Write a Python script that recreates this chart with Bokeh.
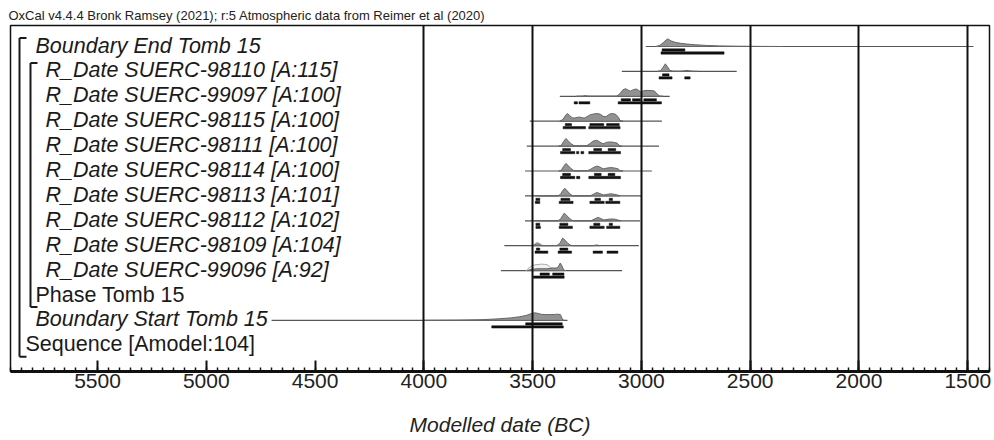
from bokeh.plotting import figure
from bokeh.models import Range1d, SingleIntervalTicker, FixedTicker, ColumnDataSource
from bokeh.core.properties import value
from bokeh.embed import file_html
from bokeh.resources import INLINE

# ---------------- data ----------------
HEADER = "OxCal v4.4.4 Bronk Ramsey (2021); r:5 Atmospheric data from Reimer et al (2020)"
X_TITLE = "Modelled date (BC)"

labels = [
    "Boundary End Tomb 15",
    "R_Date SUERC-98110 [A:115]",
    "R_Date SUERC-99097 [A:100]",
    "R_Date SUERC-98115 [A:100]",
    "R_Date SUERC-98111 [A:100]",
    "R_Date SUERC-98114 [A:100]",
    "R_Date SUERC-98113 [A:101]",
    "R_Date SUERC-98112 [A:102]",
    "R_Date SUERC-98109 [A:104]",
    "R_Date SUERC-99096 [A:92]",
    "Phase Tomb 15",
    "Boundary Start Tomb 15",
    "Sequence [Amodel:104]",
]
label_italic = [True, True, True, True, True, True, True, True, True, True, False, True, False]

# range over which each distribution was computed (years BC)
line_start = [2980, 3090, 3375, 3513, 3527, 3535, 3535, 3535, 3630, 3646, None, 4700, None]
line_end = [1474, 2562, 2870, 2906, 2919, 2952, 2997, 3006, 3012, 3089, None, 3340, None]

# posterior distributions: years BC and relative probability
post_yr_0 = [2935, 2915, 2900, 2885, 2878, 2865, 2845, 2820, 2790, 2750, 2700, 2640, 2560, 2450, 2350]
post_p_0 = [0, 0.15, 0.5, 0.9, 1.0, 0.75, 0.55, 0.42, 0.32, 0.22, 0.14, 0.08, 0.04, 0.015, 0]

post_yr_1 = [2925, 2912, 2900, 2890, 2880, 2870, 2855, 2820, 2800, 2790, 2780, 2765, 2740]
post_p_1 = [0, 0.1, 0.55, 1.0, 0.6, 0.15, 0.03, 0.02, 0.08, 0.13, 0.08, 0.02, 0]

post_yr_2 = [3300, 3270, 3258, 3245, 3200, 3115, 3100, 3085, 3073, 3060, 3050, 3035, 3023, 3012, 3003,
             2990, 2978, 2955, 2940, 2928, 2915, 2900]
post_p_2 = [0, 0.02, 0.09, 0.02, 0.01, 0.02, 0.3, 0.85, 1.0, 0.8, 0.68, 0.9, 0.96, 0.75, 0.56,
            0.72, 0.78, 0.76, 0.7, 0.3, 0.02, 0]

post_yr_3 = [3375, 3360, 3348, 3340, 3330, 3318, 3308, 3295, 3283, 3272, 3262, 3250, 3235, 3215, 3200,
             3188, 3172, 3160, 3145, 3132, 3118, 3105, 3098, 3085]
post_p_3 = [0, 0.25, 0.8, 1.0, 0.75, 0.45, 0.42, 0.5, 0.55, 0.45, 0.42, 0.6, 0.85, 0.98, 1.0,
            0.9, 0.58, 0.65, 0.95, 1.0, 0.9, 0.5, 0.05, 0]

post_yr_4 = [3380, 3368, 3358, 3347, 3338, 3325, 3312, 3300, 3270, 3250, 3238, 3222, 3206, 3192, 3176,
             3160, 3143, 3125, 3112, 3100, 3090]
post_p_4 = [0, 0.1, 0.6, 1.0, 0.75, 0.35, 0.1, 0.05, 0.04, 0.06, 0.3, 0.65, 0.77, 0.55, 0.3,
            0.5, 0.55, 0.48, 0.4, 0.05, 0]

post_yr_5 = [3380, 3368, 3358, 3347, 3338, 3325, 3312, 3300, 3250, 3235, 3218, 3203, 3190, 3175, 3160,
             3140, 3125, 3108, 3098, 3085]
post_p_5 = [0, 0.1, 0.6, 1.0, 0.75, 0.35, 0.08, 0.03, 0.03, 0.2, 0.5, 0.65, 0.5, 0.28, 0.38,
            0.45, 0.4, 0.3, 0.03, 0]

post_yr_6 = [3490, 3478, 3468, 3385, 3372, 3362, 3352, 3342, 3330, 3318, 3305, 3235, 3222, 3205, 3190,
             3175, 3160, 3142, 3125, 3108, 3098]
post_p_6 = [0, 0.06, 0, 0, 0.2, 0.7, 1.0, 0.7, 0.3, 0.05, 0, 0, 0.2, 0.45, 0.3,
            0.12, 0.2, 0.28, 0.22, 0.1, 0]

post_yr_7 = [3492, 3482, 3472, 3385, 3372, 3362, 3355, 3345, 3332, 3318, 3305, 3232, 3218, 3200, 3185,
             3172, 3158, 3138, 3120, 3105, 3095]
post_p_7 = [0, 0.05, 0, 0, 0.2, 0.7, 1.0, 0.75, 0.35, 0.05, 0, 0, 0.2, 0.45, 0.28,
            0.1, 0.18, 0.25, 0.2, 0.08, 0]

post_yr_8 = [3500, 3490, 3478, 3466, 3455, 3390, 3375, 3362, 3350, 3338, 3325, 3312, 3225, 3205, 3190]
post_p_8 = [0, 0.1, 0.3, 0.1, 0, 0, 0.3, 1.0, 0.7, 0.3, 0.05, 0, 0, 0.1, 0]

post_yr_9 = [3525, 3512, 3495, 3475, 3455, 3435, 3420, 3405, 3392, 3382, 3373, 3365, 3358, 3352]
post_p_9 = [0, 0.12, 0.2, 0.25, 0.25, 0.25, 0.28, 0.32, 0.3, 0.5, 1.0, 0.6, 0.1, 0]

post_yr_11 = [4000, 3850, 3750, 3700, 3650, 3600, 3560, 3530, 3505, 3490, 3475, 3460, 3440, 3420, 3400,
              3385, 3372, 3362, 3355]
post_p_11 = [0, 0.03, 0.08, 0.14, 0.22, 0.33, 0.48, 0.65, 0.9, 1.0, 0.92, 0.8, 0.76, 0.76, 0.78,
             0.82, 0.75, 0.1, 0]

# unmodelled likelihoods (visible only where larger than the posterior)
like_yr_8 = [3502, 3490, 3478, 3466, 3455, 3440]
like_p_8 = [0, 0.25, 0.45, 0.25, 0.05, 0]

like_yr_9 = [3530, 3520, 3505, 3490, 3475, 3460, 3445, 3432, 3418, 3400, 3385, 3372, 3360, 3350]
like_p_9 = [0, 0.3, 0.6, 0.75, 0.8, 0.85, 0.82, 0.75, 0.4, 0.32, 0.35, 0.5, 0.2, 0]

posteriors = {0: (post_yr_0, post_p_0), 1: (post_yr_1, post_p_1), 2: (post_yr_2, post_p_2),
              3: (post_yr_3, post_p_3), 4: (post_yr_4, post_p_4), 5: (post_yr_5, post_p_5),
              6: (post_yr_6, post_p_6), 7: (post_yr_7, post_p_7), 8: (post_yr_8, post_p_8),
              9: (post_yr_9, post_p_9), 11: (post_yr_11, post_p_11)}
likelihoods = {8: (like_yr_8, like_p_8), 9: (like_yr_9, like_p_9)}

# highest posterior density ranges (years BC)
range68 = {
    0: [(2905, 2800)],
    1: [(2903, 2873)],
    2: [(3093, 3050), (3041, 3004), (2989, 2931)],
    3: [(3350, 3321), (3237, 3173), (3160, 3102)],
    4: [(3362, 3326), (3219, 3183), (3153, 3118)],
    5: [(3362, 3326), (3216, 3185), (3153, 3122)],
    6: [(3485, 3467), (3370, 3329), (3214, 3188), (3148, 3133)],
    7: [(3485, 3467), (3375, 3338), (3219, 3191), (3148, 3133)],
    8: [(3483, 3467), (3375, 3338)],
    9: [(3466, 3423), (3408, 3356)],
    11: [(3532, 3364)],
}
range95 = {
    0: [(2910, 2620)],
    1: [(2919, 2859), (2801, 2776)],
    2: [(3309, 3294), (3287, 3237), (3107, 2908)],
    3: [(3360, 3257), (3242, 3098)],
    4: [(3372, 3306), (3298, 3288), (3278, 3265), (3242, 3096)],
    5: [(3372, 3306), (3298, 3283), (3242, 3096)],
    6: [(3488, 3467), (3378, 3314), (3237, 3171), (3164, 3099)],
    7: [(3485, 3464), (3378, 3317), (3237, 3171), (3160, 3099)],
    8: [(3489, 3430), (3383, 3321), (3222, 3179), (3158, 3108)],
    9: [(3497, 3355)],
    11: [(3688, 3359)],
}

# groups drawn as brackets: (first row, last row)
groups = [(0, 12), (1, 10)]

x_ticks_grid = [4000, 3500, 3000, 2500, 2000, 1500]
X0, X1 = 5900, 1400

# ---------------- layout / style ----------------
W, H = 994, 440
MB_L, MB_R, MB_T, MB_B = 10, 5, 25, 69
FRAME_W = W - MB_L - MB_R
FRAME_H = H - MB_T - MB_B
SCALE = FRAME_W / (X0 - X1)            # px per year
N = len(labels)
ROW_PX = 24.9
TOP_PAD = 21.0 / ROW_PX
BOT_PAD = FRAME_H / ROW_PX - (N - 1) - TOP_PAD
PEAK = 7.6 / ROW_PX
OFF68 = 3.5 / ROW_PX
OFF95 = 6.5 / ROW_PX
BAR_H = 2.3 / ROW_PX


def yrow(i):
    return (N - 1) - i


def px2yr(px):
    return X0 - px / SCALE


p = figure(width=W, height=H, output_backend="svg", toolbar_location=None,
           x_range=Range1d(X0, X1), y_range=Range1d(-BOT_PAD, (N - 1) + TOP_PAD),
           y_axis_location=None, min_border_left=MB_L, min_border_right=MB_R,
           min_border_top=MB_T, min_border_bottom=MB_B, background_fill_color="white",
           border_fill_color="white")

p.outline_line_color = "#111111"
p.outline_line_width = 1.5

p.title.text = HEADER
p.title.text_font = "Liberation Sans"
p.title.text_font_size = "13px"
p.title.text_font_style = "normal"
p.title.text_color = "#222222"
p.title.align = "left"
p.title.standoff = 6
p.title.offset = -2

ax = p.xaxis[0]
ax.ticker = SingleIntervalTicker(interval=500, num_minor_ticks=10)
ax.axis_label = X_TITLE
ax.axis_label_text_font = "Liberation Sans"
ax.axis_label_text_font_style = "italic"
ax.axis_label_text_font_size = "21px"
ax.axis_label_text_color = "#222222"
ax.axis_label_standoff = 22
ax.major_label_text_font = "Liberation Sans"
ax.major_label_text_font_size = "21px"
ax.major_label_text_color = "#222222"
ax.major_label_standoff = 2
ax.axis_line_width = 3
ax.axis_line_color = "#111111"
ax.major_tick_in = 11
ax.major_tick_out = 0
ax.major_tick_line_width = 2
ax.major_tick_line_color = "#111111"
ax.minor_tick_in = 4
ax.minor_tick_out = 0
ax.minor_tick_line_width = 1.5
ax.minor_tick_line_color = "#111111"

p.xgrid.ticker = FixedTicker(ticks=x_ticks_grid)
p.xgrid.grid_line_color = "#111111"
p.xgrid.grid_line_width = 2
p.xgrid.level = "overlay"
p.ygrid.visible = False

# baselines
bl = dict(x0=[], x1=[], y=[])
for i in range(N):
    if line_start[i] is not None:
        bl["x0"].append(line_start[i]); bl["x1"].append(line_end[i]); bl["y"].append(yrow(i))
p.segment(x0="x0", y0="y", x1="x1", y1="y", source=ColumnDataSource(bl),
          line_color="#555555", line_width=1.2)

# likelihood outlines
for i, (yrs, pr) in likelihoods.items():
    p.patch(yrs, [yrow(i) + v * PEAK for v in pr], fill_color="#f2f2f2", fill_alpha=1,
            line_color="#a8a8a8", line_width=1)

# posteriors
for i, (yrs, pr) in posteriors.items():
    p.patch(yrs, [yrow(i) + v * PEAK for v in pr], fill_color="#929292", fill_alpha=1,
            line_color="#666666", line_width=1)

# ranges
def bars(rdict, off):
    d = dict(left=[], right=[], y=[])
    for i, rs in rdict.items():
        for a, b in rs:
            d["left"].append(a); d["right"].append(b); d["y"].append(yrow(i) - off)
    p.hbar(y="y", left="left", right="right", height=BAR_H, source=ColumnDataSource(d),
           fill_color="#111111", line_color="#111111", line_width=0.5)

bars(range68, OFF68)
bars(range95, OFF95)

# labels
indent = {0: 25, 10: 25, 11: 25, 12: 15}
for italic in (True, False):
    rows = [i for i in range(N) if label_italic[i] == italic]
    src = ColumnDataSource(dict(x=[X0] * len(rows), y=[yrow(i) for i in rows],
                                t=[labels[i] for i in rows],
                                xo=[indent.get(i, 35) for i in rows]))
    p.text(x="x", y="y", text="t", x_offset="xo", y_offset=-1, source=src,
           text_font=value("Liberation Sans"), text_font_size="21.5px",
           text_font_style="italic" if italic else "normal",
           text_baseline="middle", text_align="left", text_color="#1a1a1a")

# brackets
bracket_px = {(0, 12): (9, 16), (1, 10): (20, 27)}
bx0, by0, bx1, by1 = [], [], [], []
for (a, b) in groups:
    xv, xh = bracket_px[(a, b)]
    top = yrow(a) + 8.5 / ROW_PX
    bot = yrow(b) - 11.5 / ROW_PX
    xa, xb = px2yr(xv), px2yr(xh)
    bx0 += [xa, xa, xa]; by0 += [top, top, bot]
    bx1 += [xa, xb, xb]; by1 += [bot, top, bot]
p.segment(x0=bx0, y0=by0, x1=bx1, y1=by1, line_color="#1a1a1a", line_width=2)

open("out.html", "w").write(file_html(p, INLINE))
